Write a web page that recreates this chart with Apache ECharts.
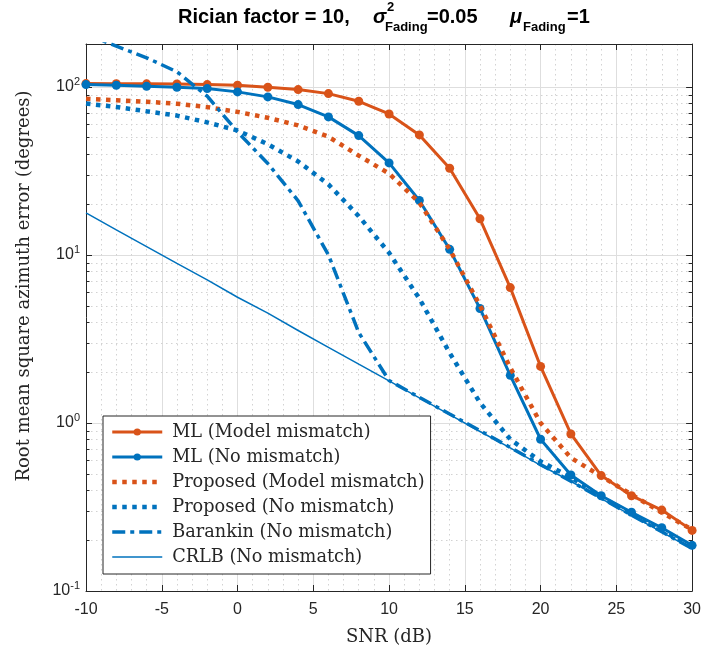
<!DOCTYPE html>
<html>
<head>
<meta charset="utf-8">
<script src="https://cdn.jsdelivr.net/npm/echarts@6/dist/echarts.min.js"></script>
<style>
  html, body { margin: 0; padding: 0; background: #fff; }
  #chart { width: 704px; height: 655px; }
</style>
</head>
<body>
<div id="chart"></div>
<script>
// SNR sweep in dB
const snr = [-10, -8, -6, -4, -2, 0, 2, 4, 6, 8, 10, 12, 14, 16, 18, 20, 22, 24, 26, 28, 30];

// RMSE of the azimuth estimate, degrees
const mlModelMismatch = [104.6, 104.5, 104.3, 104.1, 103.2, 102.2, 99.5, 96.4, 91.2, 82.1, 69.0, 51.8, 32.8, 16.4, 6.39, 2.17, 0.86, 0.486, 0.369, 0.303, 0.2295];
const mlNoMismatch = [103.2, 102.2, 100.8, 99.5, 97.7, 93.4, 87.2, 78.5, 66.3, 51.3, 35.3, 21.1, 10.8, 4.8, 1.92, 0.80, 0.49, 0.369, 0.294, 0.238, 0.187];
const proposedModelMismatch = [85, 83.3, 81.6, 79.4, 75.8, 71, 65.5, 59, 50.5, 39, 30.5, 20.5, 10.8, 5.0, 2.13, 1.0, 0.62, 0.482, 0.375, 0.293, 0.232];
const proposedNoMismatch = [79.6, 76, 71.6, 67.5, 61.5, 55, 45.6, 36, 26.3, 17.0, 10.3, 5.5, 2.61, 1.32, 0.80, 0.59, 0.475, 0.362, 0.288, 0.231, 0.183];
const barankinNoMismatch = [205, 175, 149, 123, 88, 54, 35, 21, 10, 3.45, 1.79, 1.42, 1.13, 0.9, 0.715, 0.565, 0.45, 0.357, 0.283, 0.225, 0.179];
const crlbNoMismatch = [17.8, 14.1, 11.2, 8.9, 7.1, 5.6, 4.5, 3.55, 2.82, 2.24, 1.78, 1.41, 1.12, 0.89, 0.71, 0.56, 0.45, 0.355, 0.282, 0.224, 0.178];

// axis settings
const xMin = -10, xMax = 30, xStep = 5;
const yMin = 0.1, yMax = 180;
// minor log grid values (2..9 in each decade)
const yMinorValues = [0.2, 0.3, 0.4, 0.5, 0.6, 0.7, 0.8, 0.9, 2, 3, 4, 5, 6, 7, 8, 9, 20, 30, 40, 50, 60, 70, 80, 90];

const names = [
  'ML (Model mismatch)',
  'ML (No mismatch)',
  'Proposed (Model mismatch)',
  'Proposed (No mismatch)',
  'Barankin (No mismatch)',
  'CRLB (No mismatch)'
];

const ORANGE = '#D95319';
const BLUE = '#0072BD';
const AXIS = '#262626';
const SANS = '"Liberation Sans", Arial, Helvetica, sans-serif';
const SERIF = '"DejaVu Serif", serif';

// line looks shared by the curves and their legend entries
const styles = [
  { color: ORANGE, width: 3, type: 'solid', marker: true },
  { color: BLUE, width: 3, type: 'solid', marker: true },
  { color: ORANGE, width: 4.5, type: [4.5, 5.5], marker: false },
  { color: BLUE, width: 4.5, type: [4.5, 5.5], marker: false },
  { color: BLUE, width: 3.5, type: [13, 5, 4, 5], marker: false },
  { color: BLUE, width: 1.5, type: 'solid', marker: false }
];
const seriesValues = [mlModelMismatch, mlNoMismatch, proposedModelMismatch, proposedNoMismatch, barankinNoMismatch, crlbNoMismatch];

const pairs = ys => snr.map((x, i) => [x, ys[i]]);

const chart = echarts.init(document.getElementById('chart'), null, { renderer: 'canvas' });

const yAxisCommon = {
  type: 'log',
  logBase: 10,
  min: yMin,
  max: yMax,
  axisLine: { show: true, onZero: false, lineStyle: { color: AXIS, width: 1 } },
  axisTick: { show: true, inside: true, length: 6, lineStyle: { color: AXIS } }
};

const xAxisCommon = {
  type: 'value',
  min: xMin,
  max: xMax,
  interval: xStep,
  axisLine: { show: true, onZero: false, lineStyle: { color: AXIS, width: 1 } },
  axisTick: { show: true, inside: true, length: 6, lineStyle: { color: AXIS } }
};

const titleFont = '20px ' + SANS;

const dataSeries = names.map((n, i) => {
  const s = styles[i];
  return {
    name: n,
    type: 'line',
    data: pairs(seriesValues[i]),
    color: s.color,
    symbol: s.marker ? 'circle' : 'none',
    symbolSize: 9,
    showSymbol: s.marker,
    clip: true,
    lineStyle: { width: s.width, color: s.color, type: s.type, cap: 'butt' },
    itemStyle: { color: s.color },
    z: 3 + i
  };
});

const option = {
  animation: false,
  backgroundColor: '#fff',
  grid: { left: 86, right: 11, top: 44, bottom: 64, containLabel: false },
  xAxis: [
    Object.assign({}, xAxisCommon, {
      position: 'bottom',
      axisLabel: { show: true, margin: 11, fontFamily: SANS, fontSize: 16, color: AXIS },
      splitLine: { show: true, lineStyle: { color: '#dedede', width: 1 } },
      minorTick: { show: false, splitNumber: 5 },
      minorSplitLine: { show: true, lineStyle: { color: '#d2d2d2', width: 1, type: [1.5, 3.5] } }
    }),
    Object.assign({}, xAxisCommon, {
      position: 'top',
      axisLabel: { show: false },
      splitLine: { show: false }
    })
  ],
  yAxis: [
    Object.assign({}, yAxisCommon, {
      position: 'left',
      axisLabel: {
        show: true,
        margin: 6,
        showMaxLabel: false,
        formatter: v => '{b|10}{s|' + Math.round(Math.log10(v)) + '}',
        rich: {
          b: { fontFamily: SANS, fontSize: 16, color: AXIS },
          s: { fontFamily: SANS, fontSize: 11, color: AXIS, padding: [0, 0, 10, 0] }
        }
      },
      splitLine: { show: true, lineStyle: { color: '#dedede', width: 1 } }
    }),
    Object.assign({}, yAxisCommon, {
      position: 'right',
      axisLabel: { show: false },
      splitLine: { show: false }
    })
  ],
  legend: {
    show: true,
    data: names.map((n, i) => ({
      name: n,
      lineStyle: { width: styles[i].width, type: styles[i].type, color: styles[i].color, cap: 'butt' },
      itemStyle: styles[i].marker ? { color: styles[i].color } : { opacity: 0 }
    })),
    orient: 'vertical',
    left: 103,
    top: 416,
    padding: [7, 6, 8, 7],
    itemWidth: 50,
    itemHeight: 9,
    itemGap: 7,
    backgroundColor: '#fff',
    borderColor: AXIS,
    borderWidth: 1,
    borderRadius: 0,
    textStyle: { fontFamily: SERIF, fontSize: 17.7, color: AXIS, lineHeight: 18, padding: [0, 0, 0, 5] }
  },
  graphic: [
    // title pieces
    { type: 'text', left: 178, top: 7, style: { text: 'Rician factor = 10,', font: 'bold ' + titleFont, fill: '#000' } },
    { type: 'text', left: 373, top: 7, style: { text: 'σ', font: 'italic bold ' + titleFont, fill: '#000' } },
    { type: 'text', left: 387, top: 1, style: { text: '2', font: 'bold 13px ' + SANS, fill: '#000' } },
    { type: 'text', left: 385, top: 21, style: { text: 'Fading', font: 'bold 13px ' + SANS, fill: '#000' } },
    { type: 'text', left: 427, top: 7, style: { text: '=0.05', font: 'bold ' + titleFont, fill: '#000' } },
    { type: 'text', left: 510, top: 7, style: { text: 'μ', font: 'italic bold ' + titleFont, fill: '#000' } },
    { type: 'text', left: 523, top: 21, style: { text: 'Fading', font: 'bold 13px ' + SANS, fill: '#000' } },
    { type: 'text', left: 567, top: 7, style: { text: '=1', font: 'bold ' + titleFont, fill: '#000' } },
    // axis titles
    {
      type: 'text', x: 24, y: 286, rotation: Math.PI / 2,
      style: { text: 'Root mean square azimuth error (degrees)', font: '18px ' + SERIF, fill: AXIS, align: 'center', verticalAlign: 'middle' }
    },
    {
      type: 'text', x: 389, y: 637,
      style: { text: 'SNR (dB)', font: '18px ' + SERIF, fill: AXIS, align: 'center', verticalAlign: 'middle' }
    }
  ],
  series: [
    {
      // minor log gridlines and minor ticks on both vertical edges
      type: 'custom',
      name: 'minor-grid',
      xAxisIndex: 0,
      yAxisIndex: 0,
      z: 1,
      silent: true,
      data: yMinorValues.map(v => [xMin, v]),
      encode: { x: 0, y: 1 },
      renderItem: function (params, api) {
        const cs = params.coordSys;
        const y = Math.round(api.coord([api.value(0), api.value(1)])[1]) + 0.5;
        return {
          type: 'group',
          children: [
            { type: 'line', shape: { x1: cs.x, y1: y, x2: cs.x + cs.width, y2: y },
              style: { stroke: '#d2d2d2', lineWidth: 1, lineDash: [1.5, 3.5] } },
            { type: 'line', shape: { x1: cs.x, y1: y, x2: cs.x + 3.5, y2: y },
              style: { stroke: AXIS, lineWidth: 1 } },
            { type: 'line', shape: { x1: cs.x + cs.width - 3.5, y1: y, x2: cs.x + cs.width, y2: y },
              style: { stroke: AXIS, lineWidth: 1 } }
          ]
        };
      }
    }
  ].concat(dataSeries)
};

chart.setOption(option);
</script>
</body>
</html>
